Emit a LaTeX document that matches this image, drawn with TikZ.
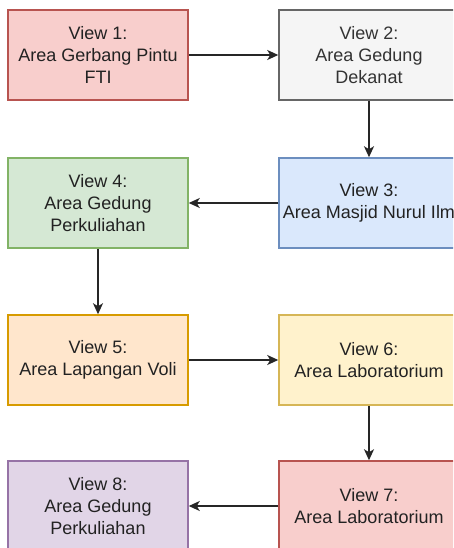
\documentclass[tikz,border=0pt]{standalone}
\usepackage{fontspec}
\setmainfont{Liberation Sans}
\usetikzlibrary{arrows.meta}
\definecolor{redF}{HTML}{F8CECC}\definecolor{redS}{HTML}{B85450}
\definecolor{grayF}{HTML}{F5F5F5}\definecolor{grayS}{HTML}{666666}\definecolor{grayT}{HTML}{333333}
\definecolor{blueF}{HTML}{DAE8FC}\definecolor{blueS}{HTML}{6C8EBF}
\definecolor{greenF}{HTML}{D5E8D4}\definecolor{greenS}{HTML}{82B366}
\definecolor{orangeF}{HTML}{FFE6CC}\definecolor{orangeS}{HTML}{D79B00}
\definecolor{yellowF}{HTML}{FFF2CC}\definecolor{yellowS}{HTML}{D6B656}
\definecolor{purpleF}{HTML}{E1D5E7}\definecolor{purpleS}{HTML}{9673A6}
\definecolor{txt}{HTML}{222222}
\tikzset{
  box/.style={draw, line width=1.5pt, minimum width=180pt, minimum height=90pt,
    inner sep=0pt, align=center, text=txt,
    font=\fontsize{18}{21.6}\selectfont},
  conn/.style={line width=1.5pt, draw=black!85, -{Stealth[length=11pt,width=10pt,inset=3pt]}}
}
\begin{document}
\begin{tikzpicture}[x=1pt,y=-1pt]
\useasboundingbox (0,0) rectangle (453,548);
\clip (0,0) rectangle (453,548);
\fill[white] (0,0) rectangle (453,548);
\node[box, fill=redF, draw=redS] (v1) at (98,55) {View 1:\\Area Gerbang Pintu\\FTI};
\node[box, fill=grayF, draw=grayS, text=grayT] (v2) at (369,55) {View 2:\\Area Gedung\\Dekanat};
\node[box, fill=blueF, draw=blueS] (v3) at (369,203) {View 3:\\Area Masjid Nurul Ilm};
\node[box, fill=greenF, draw=greenS] (v4) at (98,203) {View 4:\\Area Gedung\\Perkuliahan};
\node[box, fill=orangeF, draw=orangeS] (v5) at (98,360) {View 5:\\Area Lapangan Voli};
\node[box, fill=yellowF, draw=yellowS] (v6) at (369,360) {View 6:\\Area Laboratorium};
\node[box, fill=redF, draw=redS] (v7) at (369,506) {View 7:\\Area Laboratorium};
\node[box, fill=purpleF, draw=purpleS] (v8) at (98,506) {View 8:\\Area Gedung\\Perkuliahan};
\draw[conn] (v1) -- (v2);
\draw[conn] (v2) -- (v3);
\draw[conn] (v3) -- (v4);
\draw[conn] (v4) -- (v5);
\draw[conn] (v5) -- (v6);
\draw[conn] (v6) -- (v7);
\draw[conn] (v7) -- (v8);
\end{tikzpicture}
\end{document}
